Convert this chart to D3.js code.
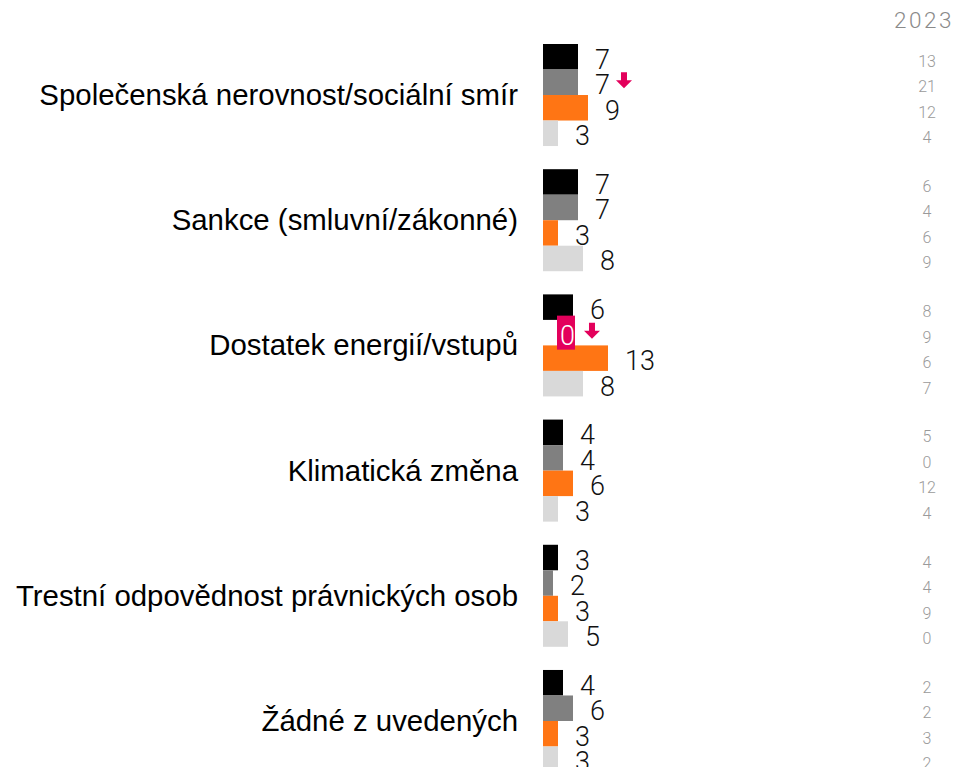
<!DOCTYPE html>
<html>
<head>
<meta charset="utf-8">
<script src="https://cdn.jsdelivr.net/npm/d3@7"></script>
<style>
  html, body { margin: 0; padding: 0; background: #fff; }
  svg { display: block; }
</style>
</head>
<body>
<svg id="chart" width="958" height="767"></svg>
<script>
// ---- data ----
const categories = [
  "Společenská nerovnost/sociální smír",
  "Sankce (smluvní/zákonné)",
  "Dostatek energií/vstupů",
  "Klimatická změna",
  "Trestní odpovědnost právnických osob",
  "Žádné z uvedených"
];
const seriesNames = ["A", "B", "C", "D"];
const seriesA = [7, 7, 6, 4, 3, 4];
const seriesB = [7, 7, 0, 4, 2, 6];
const seriesC = [9, 3, 13, 6, 3, 3];
const seriesD = [3, 8, 8, 3, 5, 3];
const compareYear = "2023";
const seriesA2023 = [13, 6, 8, 5, 4, 2];
const seriesB2023 = [21, 4, 9, 0, 4, 2];
const seriesC2023 = [12, 6, 6, 12, 9, 3];
const seriesD2023 = [4, 9, 7, 4, 0, 2];
// markers on series B: significant decline, highlighted value
const declineMarkers = ["Společenská nerovnost/sociální smír", "Dostatek energií/vstupů"];
const highlightMarkers = ["Dostatek energií/vstupů"];

const colors = ["#000000", "#808080", "#ff7514", "#d9d9d9"];
const accent = "#e3005b";

const current = [seriesA, seriesB, seriesC, seriesD];
const previous = [seriesA2023, seriesB2023, seriesC2023, seriesD2023];

const rows = [];
categories.forEach((c, i) => {
  seriesNames.forEach((s, j) => {
    rows.push({cat: c, series: s, si: j, value: current[j][i], prev: previous[j][i]});
  });
});

// ---- layout ----
const svg = d3.select("#chart");
const x = d3.scaleLinear().domain([0, 20]).range([543, 643]);
const y = d3.scaleBand().domain(categories).range([44, 772]).paddingInner(0.185).paddingOuter(0);
const ys = d3.scaleBand().domain(seriesNames).range([0, y.bandwidth()]).padding(0);

const labelFont = "'Liberation Sans', Arial, sans-serif";
const numFont = "Roboto, 'Noto Sans', sans-serif";

// category labels
svg.append("g").selectAll("text")
  .data(categories).join("text")
  .attr("x", 518)
  .attr("y", d => y(d) + y.bandwidth() / 2 + 10)
  .attr("text-anchor", "end")
  .attr("font-family", labelFont)
  .attr("font-size", 29.4)
  .attr("fill", "#000")
  .text(d => d);

// bars
svg.append("g").selectAll("rect")
  .data(rows).join("rect")
  .attr("x", x(0))
  .attr("y", d => y(d.cat) + ys(d.series))
  .attr("width", d => x(d.value) - x(0))
  .attr("height", ys.bandwidth())
  .attr("fill", d => colors[d.si]);

// value labels
const lab = svg.append("g").selectAll("g")
  .data(rows).join("g");

lab.each(function(d) {
  const g = d3.select(this);
  const cy = y(d.cat) + ys(d.series) + ys.bandwidth() / 2;
  const isHi = d.series === "B" && highlightMarkers.includes(d.cat);
  const t = g.append("text")
    .attr("x", x(d.value) + 17)
    .attr("y", cy + 12)
    .attr("font-family", numFont)
    .attr("font-weight", 300)
    .attr("font-size", 27)
    .attr("fill", isHi ? "#fff" : "#111")
    .text(d.value);
  const bb = t.node().getBBox();
  if (isHi) {
    g.insert("rect", "text")
      .attr("x", bb.x - 3)
      .attr("y", cy - 17)
      .attr("width", bb.width + 3)
      .attr("height", 34)
      .attr("fill", accent);
  }
  if (d.series === "B" && declineMarkers.includes(d.cat)) {
    const ax = bb.x + bb.width + (isHi ? 9 : 6);
    const ay = cy - 10;
    const p = d3.path();
    p.moveTo(ax + 5, ay);
    p.lineTo(ax + 11, ay);
    p.lineTo(ax + 11, ay + 8);
    p.lineTo(ax + 16, ay + 8);
    p.lineTo(ax + 8, ay + 16);
    p.lineTo(ax, ay + 8);
    p.lineTo(ax + 5, ay + 8);
    p.closePath();
    g.append("path").attr("d", p.toString()).attr("fill", accent);
  }
});

// comparison column
svg.append("text")
  .attr("x", 924)
  .attr("y", 28)
  .attr("text-anchor", "middle")
  .attr("font-family", numFont)
  .attr("font-weight", 300)
  .attr("font-size", 22.5)
  .attr("letter-spacing", 2.5)
  .attr("fill", "#8a8a8a")
  .text(compareYear);

svg.append("g").selectAll("text")
  .data(rows).join("text")
  .attr("x", 927)
  .attr("y", d => y(d.cat) + ys(d.series) + ys.bandwidth() / 2 + 10)
  .attr("text-anchor", "middle")
  .attr("font-family", numFont)
  .attr("font-weight", 300)
  .attr("font-size", 16)
  .attr("fill", "#9a9a9a")
  .text(d => d.prev);
</script>
</body>
</html>
